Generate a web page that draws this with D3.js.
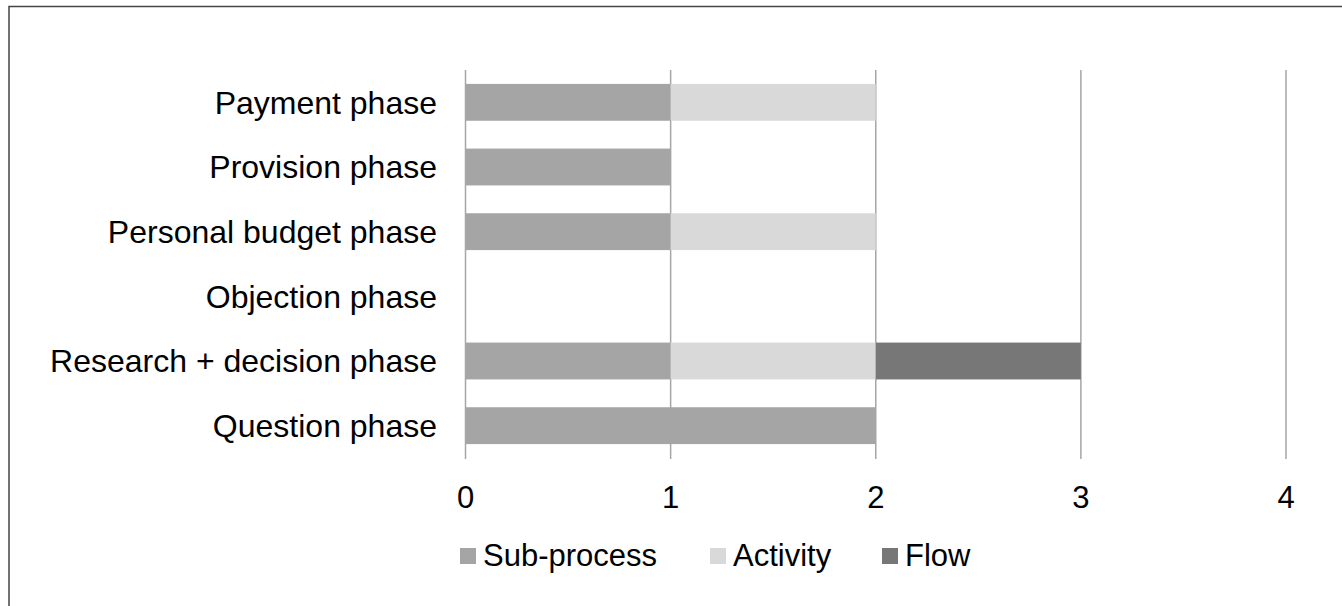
<!DOCTYPE html>
<html><head><meta charset="utf-8">
<script src="https://cdn.jsdelivr.net/npm/d3@7"></script>
<style>html,body{margin:0;padding:0;background:#fff;}svg{display:block;}</style>
</head><body>
<svg id="c" width="1342" height="606"></svg>
<script>
const categories = ["Payment phase","Provision phase","Personal budget phase","Objection phase","Research + decision phase","Question phase"];
const seriesNames = ["Sub-process","Activity","Flow"];
const subProcess = [1,1,1,0,1,2];
const activity   = [1,0,1,0,1,0];
const flow       = [0,0,0,0,1,0];
const tickValues = [0,1,2,3,4];
const colors = ["#a5a5a5","#d9d9d9","#777777"];

const svg = d3.select("#c");
const font = "'Liberation Sans', Arial, sans-serif";

// frame
svg.append("path").attr("d","M9,606 V6.5 H1342").attr("fill","none").attr("stroke","#444").attr("stroke-width",1.5);

const x = d3.scaleLinear().domain([0,4]).range([465.5,1286]);
const y = d3.scaleBand().domain(categories).range([70,458]).paddingInner(0.43).paddingOuter(0.215);

// gridlines
svg.append("g").selectAll("line").data(tickValues).join("line")
  .attr("x1",d=>x(d)).attr("x2",d=>x(d)).attr("y1",70).attr("y2",459)
  .attr("stroke","#a6a6a6").attr("stroke-width",1.5);

const rows = categories.map((c,i)=>({cat:c, "Sub-process":subProcess[i], "Activity":activity[i], "Flow":flow[i]}));
const stack = d3.stack().keys(seriesNames)(rows);

svg.append("g").selectAll("g").data(stack).join("g")
  .attr("fill",(d,i)=>colors[i])
  .selectAll("rect").data(d=>d.filter(s=>s[1]-s[0]>0)).join("rect")
  .attr("x",d=>x(d[0])).attr("width",d=>x(d[1])-x(d[0]))
  .attr("y",d=>y(d.data.cat)).attr("height",y.bandwidth());

// category labels
svg.append("g").selectAll("text").data(categories).join("text")
  .attr("x",437).attr("y",d=>y(d)+y.bandwidth()/2)
  .attr("dy","0.35em").attr("text-anchor","end")
  .attr("font-family",font).attr("font-size",32).attr("fill","#000").text(d=>d);

// tick labels
svg.append("g").selectAll("text").data(tickValues).join("text")
  .attr("x",d=>x(d)).attr("y",508).attr("text-anchor","middle")
  .attr("font-family",font).attr("font-size",31).attr("fill","#000").text(d=>d);

// legend
const legendX = [460,710,882];
const lg = svg.append("g").selectAll("g").data(seriesNames).join("g")
  .attr("transform",(d,i)=>`translate(${legendX[i]},0)`);
lg.append("rect").attr("x",0).attr("y",548).attr("width",16).attr("height",16).attr("fill",(d,i)=>colors[i]);
lg.append("text").attr("x",23).attr("y",566).attr("font-family",font).attr("font-size",31).attr("fill","#000").text(d=>d);
</script>
</body></html>
